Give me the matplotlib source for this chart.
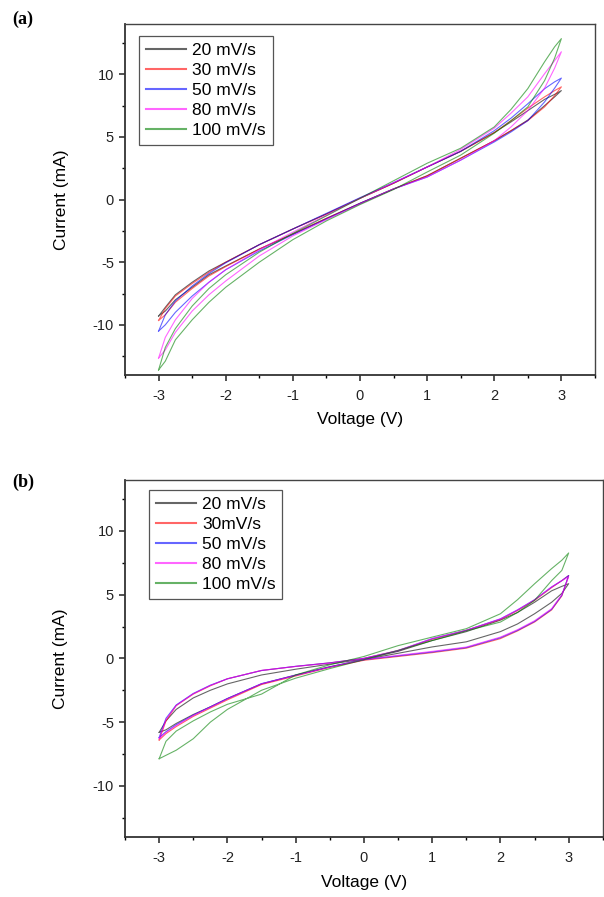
import matplotlib
matplotlib.use("Agg")
import matplotlib.pyplot as plt
from matplotlib.ticker import MultipleLocator

plt.rcParams['font.family'] = ['Liberation Sans', 'DejaVu Sans']
plt.rcParams['axes.unicode_minus'] = False

volts = [-3, -2.9, -2.75, -2.5, -2.25, -2, -1.5, -1, -0.5, 0, 0.5, 1, 1.5, 2, 2.25, 2.5, 2.75, 2.9, 3]

labels_a = ["20 mV/s", "30 mV/s", "50 mV/s", "80 mV/s", "100 mV/s"]
labels_b = ["20 mV/s", "30mV/s", "50 mV/s", "80 mV/s", "100 mV/s"]
colors = ["#000000", "#ff0000", "#0000ff", "#ff00ff", "#008000"]

# panel (a): current (mA) on the forward sweep (-3 -> 3) and the reverse sweep (3 -> -3)
a_fwd = [
    [-9.3, -8.6, -7.6, -6.6, -5.7, -5.0, -3.6, -2.35, -1.15, 0.1, 1.3, 2.6, 3.85, 5.35, 6.2, 7.1, 8.0, 8.4, 8.7],
    [-9.65, -8.7, -7.7, -6.7, -5.8, -5.0, -3.6, -2.35, -1.15, 0.1, 1.3, 2.6, 3.85, 5.35, 6.3, 7.3, 8.2, 8.7, 9.0],
    [-10.5, -9.2, -8.1, -6.9, -5.9, -5.05, -3.6, -2.35, -1.1, 0.15, 1.35, 2.6, 3.85, 5.5, 6.5, 7.65, 8.85, 9.4, 9.7],
    [-12.65, -11.0, -9.6, -7.9, -6.6, -5.6, -4.0, -2.6, -1.25, 0.1, 1.35, 2.6, 4.0, 5.7, 6.9, 8.2, 10.05, 11.1, 11.8],
    [-13.6, -11.8, -10.3, -8.5, -7.1, -6.0, -4.2, -2.7, -1.3, 0.1, 1.5, 2.9, 4.1, 5.8, 7.2, 8.86, 11.0, 12.2, 12.85],
]
a_rev = [
    [-9.3, -8.9, -8.0, -7.0, -6.0, -5.3, -3.95, -2.75, -1.5, -0.3, 0.85, 1.9, 3.3, 4.7, 5.5, 6.35, 7.5, 8.2, 8.7],
    [-9.65, -9.2, -8.2, -7.1, -6.1, -5.35, -3.95, -2.75, -1.5, -0.3, 0.85, 1.9, 3.3, 4.7, 5.5, 6.3, 7.4, 8.3, 9.0],
    [-10.5, -10.0, -9.0, -7.7, -6.6, -5.6, -4.1, -2.8, -1.55, -0.3, 0.85, 1.8, 3.15, 4.6, 5.4, 6.3, 7.8, 8.9, 9.7],
    [-12.65, -12.0, -10.6, -8.9, -7.6, -6.5, -4.5, -2.9, -1.6, -0.35, 0.85, 1.8, 3.15, 4.7, 5.8, 7.1, 8.9, 10.5, 11.8],
    [-13.6, -12.9, -11.2, -9.6, -8.2, -7.0, -5.0, -3.2, -1.7, -0.4, 0.8, 2.2, 3.55, 5.3, 6.3, 7.4, 9.5, 11.3, 12.85],
]

# panel (b)
b_fwd = [
    [-5.8, -4.9, -4.0, -3.1, -2.5, -2.0, -1.3, -0.85, -0.45, -0.05, 0.55, 1.4, 2.1, 3.0, 3.6, 4.4, 5.3, 5.65, 5.86],
    [-6.4, -4.9, -3.7, -2.8, -2.15, -1.6, -0.95, -0.63, -0.35, 0.0, 0.6, 1.5, 2.2, 3.05, 3.75, 4.55, 5.55, 6.1, 6.5],
    [-6.2, -4.7, -3.65, -2.75, -2.1, -1.6, -0.95, -0.62, -0.35, 0.0, 0.6, 1.55, 2.2, 3.1, 3.8, 4.6, 5.6, 6.1, 6.5],
    [-6.3, -4.8, -3.7, -2.77, -2.12, -1.6, -0.94, -0.63, -0.37, 0.0, 0.63, 1.55, 2.2, 3.1, 3.8, 4.6, 5.6, 6.1, 6.4],
    [-7.87, -6.5, -5.7, -4.9, -4.2, -3.6, -2.8, -1.3, -0.5, 0.15, 1.0, 1.67, 2.33, 3.5, 4.6, 5.85, 7.04, 7.7, 8.27],
]
b_rev = [
    [-5.8, -5.6, -5.1, -4.4, -3.8, -3.15, -2.0, -1.3, -0.65, -0.1, 0.4, 0.9, 1.3, 2.1, 2.7, 3.5, 4.4, 5.1, 5.86],
    [-6.4, -5.9, -5.35, -4.55, -3.9, -3.25, -2.05, -1.38, -0.7, -0.15, 0.15, 0.45, 0.8, 1.55, 2.15, 2.85, 3.8, 4.9, 6.5],
    [-6.2, -5.75, -5.2, -4.45, -3.8, -3.15, -1.98, -1.32, -0.67, -0.1, 0.2, 0.5, 0.85, 1.62, 2.2, 2.9, 3.85, 4.95, 6.5],
    [-6.3, -5.8, -5.26, -4.47, -3.82, -3.17, -1.99, -1.33, -0.68, -0.1, 0.24, 0.55, 0.89, 1.67, 2.25, 2.95, 3.9, 5.0, 6.4],
    [-7.87, -7.6, -7.2, -6.3, -5.0, -4.0, -2.5, -1.55, -0.8, -0.1, 0.63, 1.4, 2.16, 2.85, 3.6, 4.55, 6.1, 6.9, 8.27],
]


def draw_cv(ax, fwd, rev, labels, leg_anchor):
    for f, r, c, lab in zip(fwd, rev, colors, labels):
        # closed loop: forward sweep then back along the reverse sweep
        xs = volts + volts[::-1]
        ys = f + r[::-1]
        ax.plot(xs, ys, color=c, lw=0.8, alpha=0.6, label=lab)

    ax.set_xlim(-3.5, 3.5)
    ax.set_ylim(-14, 14)
    ax.xaxis.set_major_locator(MultipleLocator(1))
    ax.xaxis.set_minor_locator(MultipleLocator(0.5))
    ax.yaxis.set_major_locator(MultipleLocator(5))
    ax.yaxis.set_minor_locator(MultipleLocator(2.5))
    ax.tick_params(which="major", direction="out", length=4, width=1.1, labelsize=10.5, colors="#222222")
    ax.tick_params(axis="x", which="major", pad=6)
    ax.tick_params(axis="y", which="major", pad=4)
    ax.tick_params(which="minor", direction="out", length=2.5, width=1.0)
    for s in ["left", "bottom"]:
        ax.spines[s].set_linewidth(1.3)
        ax.spines[s].set_color("#333333")
    for s in ["top", "right"]:
        ax.spines[s].set_linewidth(1.0)
        ax.spines[s].set_color("#444444")

    ax.set_xlabel("Voltage (V)", fontsize=12.5)
    ax.set_ylabel("Current (mA)", fontsize=12.5)
    ax.yaxis.set_label_coords(-0.12, 0.5)

    leg = ax.legend(loc="upper left", fontsize=12.5, handlelength=2.3, handletextpad=0.35,
                    labelspacing=0.28, borderpad=0.4, borderaxespad=0, fancybox=False,
                    framealpha=1, bbox_to_anchor=leg_anchor)
    leg.get_frame().set_edgecolor("#555555")
    leg.get_frame().set_linewidth(0.9)
    for line in leg.get_lines():
        line.set_linewidth(1.5)


fig = plt.figure(figsize=(6.04, 8.97), dpi=100)
ax_a = fig.add_axes([0.207, 0.582, 0.778, 0.391])
ax_b = fig.add_axes([0.207, 0.067, 0.791, 0.398])

draw_cv(ax_a, a_fwd, a_rev, labels_a, (0.03, 0.966))
draw_cv(ax_b, b_fwd, b_rev, labels_b, (0.05, 0.972))
ax_a.xaxis.set_label_coords(0.5, -0.105)
ax_b.xaxis.set_label_coords(0.5, -0.108)

fig.text(0.02, 0.978, "(a)", fontsize=13, fontweight="bold", family="Liberation Serif", va="center")
fig.text(0.02, 0.462, "(b)", fontsize=13, fontweight="bold", family="Liberation Serif", va="center")

fig.savefig("out.png", dpi=100)
